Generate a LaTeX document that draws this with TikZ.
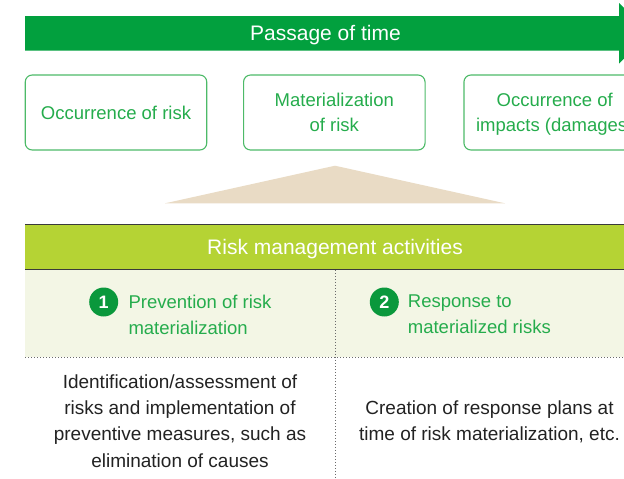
\documentclass[tikz,border=0pt]{standalone}
\usepackage{fontspec}
\setmainfont{Liberation Sans}

\definecolor{timegreen}{HTML}{02A03E}
\definecolor{boxgreen}{HTML}{4DBA68}
\definecolor{labelgreen}{HTML}{25AC4C}
\definecolor{discgreen}{HTML}{0A983C}
\definecolor{headgreen}{HTML}{B5D334}
\definecolor{paleband}{HTML}{F3F6E5}
\definecolor{sand}{HTML}{E9DBC5}
\definecolor{inkgray}{HTML}{222222}
\definecolor{rulegray}{HTML}{3A3A3A}
\definecolor{dotgray}{HTML}{6A6A6A}

\tikzset{
  stagebox/.style={draw=boxgreen, line width=1.1pt, rounded corners=7pt,
    minimum width=181.5pt, minimum height=75pt, inner sep=0pt, align=center,
    text=labelgreen, font=\fontsize{18.5}{25.5}\selectfont},
  bandtitle/.style={text=white, inner sep=0pt, anchor=base,
    font=\fontsize{21}{25}\selectfont},
  numdisc/.style={circle, fill=discgreen, minimum size=29pt, inner sep=0pt,
    text=white, font=\bfseries\fontsize{18}{18}\selectfont},
  itemtext/.style={align=left, text=labelgreen, inner sep=0pt, text depth=0pt,
    anchor=west, font=\fontsize{18.5}{26}\selectfont},
  bodytext/.style={align=center, text=inkgray, inner sep=0pt, text depth=0pt,
    font=\fontsize{19}{26.3}\selectfont},
  headrule/.style={draw=rulegray, line width=1pt},
  dotline/.style={draw=dotgray, line width=0.9pt, dash pattern=on 1pt off 2pt}
}

\begin{document}
\begin{tikzpicture}[x=1pt, y=-1pt]
\useasboundingbox (0,0) rectangle (624,479);
\clip (0,0) rectangle (624,479);

% time arrow
\fill[timegreen] (25,16) -- (619,16) -- (619,3) -- (649.5,33.3)
  -- (619,63.7) -- (619,50.7) -- (25,50.7) -- cycle;
\node[bandtitle] (time) at (325.5,40.5) {Passage of time};

% stages along the time line
\node[stagebox] (occ) at (116,112.5) {Occurrence of risk};
\node[stagebox] (mat) at (334.3,112.5) {Materialization\\of risk};
\node[stagebox, text depth=0pt] (imp) at (554.7,112.5) {Occurrence of\\impacts (damages)};

% pointer from the activities up to the materialization stage
\fill[sand] (335,165.7) -- (505,203.3) -- (165,203.3) -- cycle;

% activities table
\fill[headgreen] (25,224.3) rectangle (670,269.3);
\fill[paleband] (25,269.3) rectangle (670,357.3);
\draw[headrule] (25,224.3) -- (670,224.3);
\draw[headrule] (25,269.3) -- (670,269.3);
\draw[dotline] (25,357.3) -- (670,357.3);
\draw[dotline] (335,269.8) -- (335,479);
\node[bandtitle] (rma) at (335,254.3) {Risk management activities};

% column headings
\node[numdisc] (n1) at (103.7,302) {1};
\node[itemtext] (prev) at (128.3,314.3) {Prevention of risk\\materialization};
\node[numdisc] (n2) at (384.3,302) {2};
\node[itemtext] (resp) at (407.7,314.3) {Response to\\materialized risks};

% column bodies
\node[bodytext] (body1) at (180,420.8) {Identification/assessment of\\risks and implementation of\\preventive measures, such as\\elimination of causes};
\node[bodytext] (body2) at (489.5,420.8) {Creation of response plans at\\time of risk materialization, etc.};
\end{tikzpicture}
\end{document}
